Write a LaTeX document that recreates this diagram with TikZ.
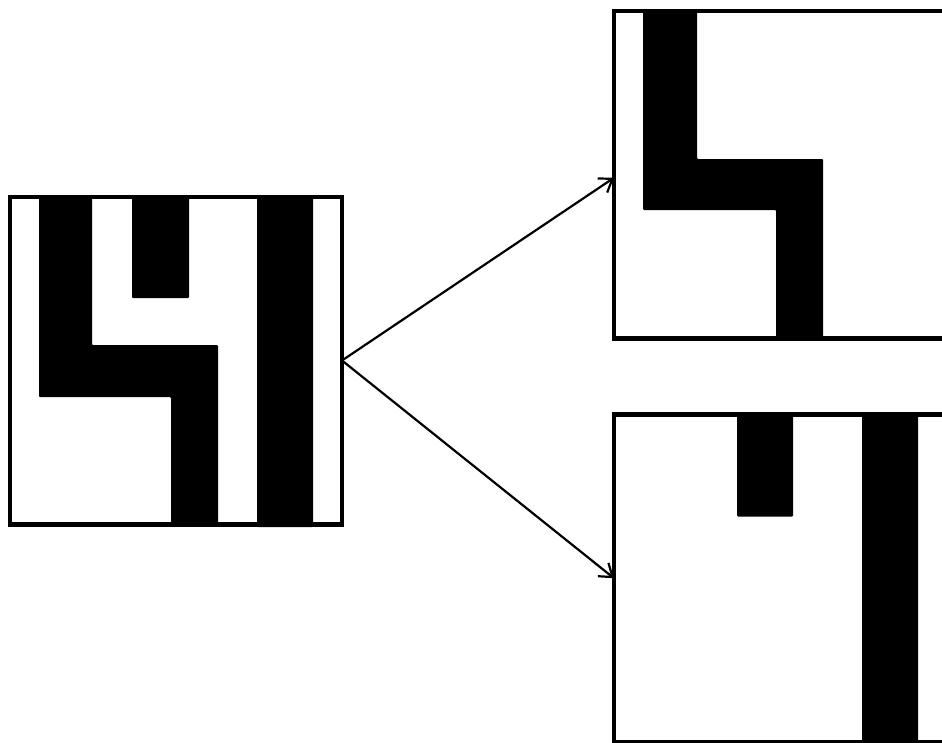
\documentclass[tikz,border=0pt]{standalone}
\usetikzlibrary{arrows.meta}
\begin{document}
\begin{tikzpicture}[x=1pt,y=-1pt,
  box/.style={draw,line width=4.5pt,minimum width=332pt,minimum height=327.5pt,inner sep=0pt,outer sep=0pt},
  blk/.style={fill=black,draw=none,rounded corners=1pt},
  conn/.style={-{Straight Barb[length=12pt,width=17pt]},line width=2.2pt}]
\useasboundingbox (0,0) rectangle (942,742);
\clip (0,0) rectangle (942,742);
\fill[white] (0,0) rectangle (942,742);
% left box shapes
\begin{scope}[shift={(10,197)}]
  \fill[blk] (29,0) -- (82,0) -- (82,148) -- (208,148) -- (208,327) -- (161,327) -- (161,200) -- (29,200) -- cycle;
  \fill[blk] (122,0) rectangle (179,101);
  \fill[blk] (247,-2) rectangle (303,330);
\end{scope}
% top right box shapes
\begin{scope}[shift={(614,11)}]
  \fill[blk] (29,0) -- (83,0) -- (83,148) -- (209,148) -- (209,327) -- (162,327) -- (162,199) -- (29,199) -- cycle;
\end{scope}
% bottom right box shapes
\begin{scope}[shift={(614,414.5)}]
  \fill[blk] (123,0) rectangle (179,102);
  \fill[blk] (248,-2) rectangle (304,330);
\end{scope}
\node[box] (L) at (176,360.5) {};
\node[box] (T) at (780,174.75) {};
\node[box] (B) at (780,578.25) {};
\draw[conn] (L.east) -- ([yshift=-3pt]T.west);
\draw[conn] (L.east) -- (B.west);
\end{tikzpicture}
\end{document}
